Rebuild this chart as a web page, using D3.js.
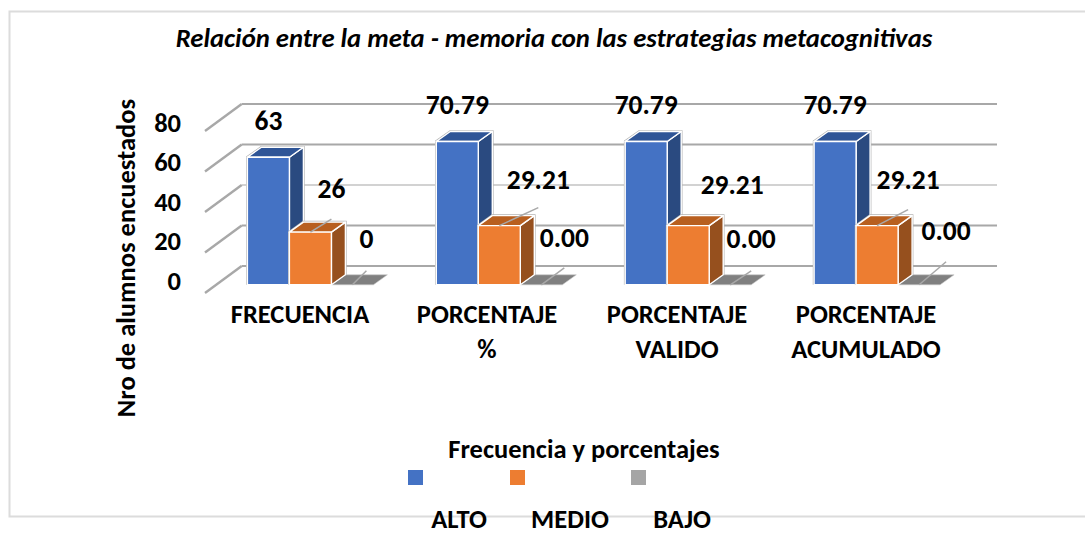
<!DOCTYPE html>
<html><head><meta charset="utf-8">
<script src="https://cdnjs.cloudflare.com/ajax/libs/d3/7.8.5/d3.min.js"></script>
<style>html,body{margin:0;padding:0;background:#fff}svg{display:block}
text{font-family:Carlito,Lato,"Open Sans",sans-serif;font-weight:700;fill:#000}</style>
</head><body><svg id="c" width="1085" height="533"></svg>
<script>
const categories=[["FRECUENCIA"],["PORCENTAJE","%"],["PORCENTAJE","VALIDO"],["PORCENTAJE","ACUMULADO"]];
const seriesNames=["ALTO","MEDIO","BAJO"];
const alto=[63,70.79,70.79,70.79];
const medio=[26,29.21,29.21,29.21];
const bajo=[0,0,0,0];
const altoLabels=["63","70.79","70.79","70.79"];
const medioLabels=["26","29.21","29.21","29.21"];
const bajoLabels=["0","0.00","0.00","0.00"];
const yTicks=[0,20,40,60,80];

const svg=d3.select("#c");
const W=1085,H=533;
// frame
svg.append("path").attr("d",`M${W+2} 11.5H9.5V516.5H${W+2}`).attr("fill","none").attr("stroke","#dcdcdc").attr("stroke-width",2);

const depthX=36.7,depthY=27;            // floor depth
const barDX=14,barDY=10;                // bar depth
const wall=d3.scaleLinear().domain([0,80]).range([266,104]);
const front=v=>wall(v)+depthY;
const barY=v=>wall(v)+18.8;
const x=d3.scaleBand().domain(d3.range(4)).range([247.4,247.4+4*188.9]);
const barW=42;
const FS=26.5, DL=27.5;

// title
svg.append("text").attr("x",554).attr("y",47).attr("text-anchor","middle").attr("font-size",26.7).style("font-style","italic").attr("id","title")
  .text("Relación entre la meta - memoria con las estrategias metacognitivas");

// walls
const grid=svg.append("g");
yTicks.forEach(t=>{
  const lc=t===40?"#d2d2d2":"#a8a8a8";
  grid.append("line").attr("x1",241.7).attr("x2",997).attr("y1",wall(t)).attr("y2",wall(t)).attr("stroke",lc).attr("stroke-width",2);
  grid.append("line").attr("x1",205).attr("y1",front(t)).attr("x2",241.7).attr("y2",wall(t)).attr("stroke","#a8a8a8").attr("stroke-width",2.4);
});

// axis labels via d3 axis
const tickScale=d3.scaleLinear().domain([0,80]).range([289,131]);
const ax=svg.append("g").attr("transform","translate(181,0)").call(d3.axisLeft(tickScale).tickValues(yTicks).tickSize(0).tickPadding(0));
ax.select(".domain").remove();
ax.selectAll("text").attr("dy",0).attr("font-size",FS).style("font-family","Carlito,Lato,sans-serif").style("font-weight",700).attr("fill","#000").attr("text-anchor","end");

const poly=(g,pts,f)=>g.append("path").attr("d","M"+pts.map(p=>p.join(",")).join("L")+"Z").attr("fill",f).attr("stroke","#fff").attr("stroke-width",1.4).attr("stroke-linejoin","round");
function bar(g,x0,v,colors,edge){
  const y0=barY(0),y1=barY(v),x1=x0+barW;
  if(edge){
    g.append("path").attr("d",`M${x0} ${y0}V${y1}L${x0+barDX} ${y1-barDY}H${x1+barDX}V${y0-barDY}`).attr("fill","none").attr("stroke","#b5b5b5").attr("stroke-width",2.6);
  }
  poly(g,[[x1,y0],[x1+barDX,y0-barDY],[x1+barDX,y1-barDY],[x1,y1]],colors[2]);
  poly(g,[[x0,y1],[x0+barDX,y1-barDY],[x1+barDX,y1-barDY],[x1,y1]],colors[1]);
  poly(g,[[x0,y0],[x1,y0],[x1,y1],[x0,y1]],colors[0]);
}
const blue=["#4472c4","#2f5597","#2a4a80"],orange=["#ed7d31","#b85f1f","#96501e"],gray=["#808080","#808080","#808080"];
const bars=svg.append("g");
d3.range(4).forEach(i=>{
  const x0=x(i);
  const g=bars.append("g");
  bar(g,x0,alto[i],blue,true);
  // floor bar for zero value drawn first so the orange side covers it
  const gx=x0+2*barW;
  const yb=barY(bajo[i]);
  g.append("path").attr("d",`M${gx} ${yb}L${gx+barDX} ${yb-barDY}H${gx+barW+barDX}L${gx+barW} ${yb}Z`).attr("fill",gray[0]).attr("stroke","#c8c8c8").attr("stroke-width",0.6);
  bar(g,x0+barW,medio[i],orange,true);
});

// data label offsets from the top-centre of each bar: [dx, baseline dy]
const altoOff=[[0,-27],[0,-27],[0,-27],[0,-27]];
const medioOff=[[21,-34],[39,-37],[44,-32],[31,-37]];
const bajoOff=[[14,-36.5],[23,-38],[21,-37],[27,-45]];
// leader tip height above the bar top (null: no leader)
const medioTip=[13,18,null,16];
const bajoTip=[14,17,14,23];
const leaders=svg.append("g");
const labels=svg.append("g");
function lab(xc,y,t){labels.append("text").attr("x",xc).attr("y",y).attr("text-anchor","middle").attr("font-size",DL).attr("class","dl").text(t);}
d3.range(4).forEach(i=>{
  const c0=x(i)+barW/2,c1=c0+barW,c2=c1+barW;
  lab(c0+altoOff[i][0],barY(alto[i])+altoOff[i][1],altoLabels[i]);
  const mx=c1+medioOff[i][0],bx=c2+bajoOff[i][0];
  lab(mx,barY(medio[i])+medioOff[i][1],medioLabels[i]);
  lab(bx,barY(bajo[i])+bajoOff[i][1],bajoLabels[i]);
  if(medioTip[i]!==null) leaders.append("line").attr("x1",c1).attr("y1",barY(medio[i])).attr("x2",mx).attr("y2",barY(medio[i])-medioTip[i]).attr("stroke","#a8a8a8").attr("stroke-width",1.5);
  leaders.append("line").attr("x1",c2).attr("y1",barY(0)).attr("x2",bx).attr("y2",barY(0)-bajoTip[i]).attr("stroke","#a8a8a8").attr("stroke-width",1.5);
});

// category labels
const catX=[300,487,677,866];
categories.forEach((c,i)=>c.forEach((s,j)=>{
  svg.append("text").attr("x",catX[i]).attr("y",323+35*j).attr("text-anchor","middle").attr("font-size",FS).text(s);
}));
// axis titles
svg.append("text").attr("transform","translate(135,258) rotate(-90)").attr("text-anchor","middle").attr("font-size",FS).text("Nro de alumnos encuestados");
svg.append("text").attr("x",584).attr("y",458).attr("text-anchor","middle").attr("font-size",FS).text("Frecuencia y porcentajes");
// legend
const legendColors=["#4472c4","#ed7d31","#a5a5a5"],swatchX=[408,510,631],legendX=[459,570,682];
seriesNames.forEach((n,i)=>{
  svg.append("rect").attr("x",swatchX[i]).attr("y",470).attr("width",15).attr("height",15).attr("fill",legendColors[i]);
  svg.append("text").attr("x",legendX[i]).attr("y",527.5).attr("text-anchor","middle").attr("font-size",FS).text(n);
});
</script></body></html>
